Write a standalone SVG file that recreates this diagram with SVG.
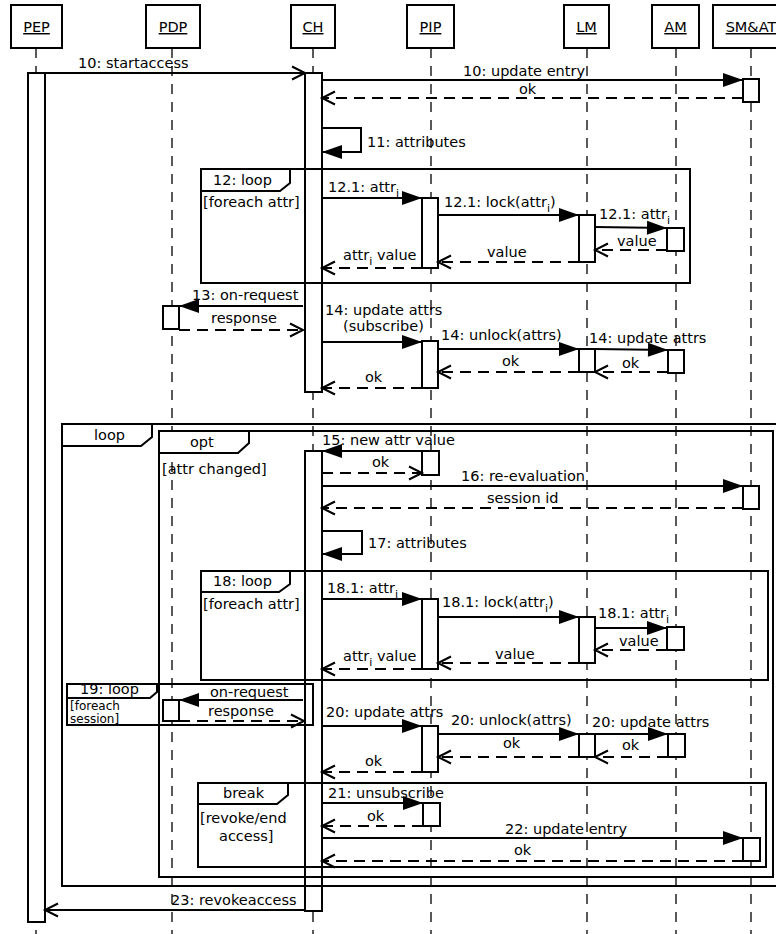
<svg xmlns="http://www.w3.org/2000/svg" width="776" height="934" viewBox="0 0 776 934">
<defs>
<style>
text{font-family:"DejaVu Sans","Liberation Sans",sans-serif;font-size:14.5px;fill:#000}
.hdr{fill:#fff;stroke:#000;stroke-width:2}
.ll{stroke:#000;stroke-width:1.3;stroke-dasharray:10 8;fill:none}
.act{fill:#fff;stroke:#000;stroke-width:2}
.frm{fill:none;stroke:#000;stroke-width:2}
.tab{fill:#fff;stroke:#000;stroke-width:2}
.m{stroke:#000;stroke-width:2;fill:none;marker-end:url(#fa)}
.o{stroke:#000;stroke-width:2;fill:none;marker-end:url(#oa)}
.r{stroke:#000;stroke-width:2;fill:none;stroke-dasharray:11 7;marker-end:url(#oa)}
.sub{font-size:11px}
.sm{font-size:12px}
.u{text-decoration:underline}
</style>
<marker id="fa" markerUnits="userSpaceOnUse" markerWidth="22" markerHeight="16" refX="20" refY="7" orient="auto" overflow="visible"><path d="M0,0 L20,7 L0,14 z" fill="#000"/></marker>
<marker id="oa" markerUnits="userSpaceOnUse" markerWidth="16" markerHeight="16" refX="13" refY="7" orient="auto" overflow="visible"><path d="M0,0.5 L13,7 L0,13.5" fill="none" stroke="#000" stroke-width="2"/></marker>
</defs>
<rect width="776" height="934" fill="#fff"/>

<g id="PEP"><line class="ll" x1="36" y1="48" x2="36" y2="934"/><rect class="hdr" x="11" y="5" width="51" height="43"/><text class="u" x="36.5" y="32" text-anchor="middle">PEP</text></g>
<g id="PDP"><line class="ll" x1="172" y1="48" x2="172" y2="934"/><rect class="hdr" x="146" y="5" width="54" height="43"/><text class="u" x="173" y="32" text-anchor="middle">PDP</text></g>
<g id="CH"><line class="ll" x1="313" y1="48" x2="313" y2="934"/><rect class="hdr" x="291" y="5" width="44" height="43"/><text class="u" x="313" y="32" text-anchor="middle">CH</text></g>
<g id="PIP"><line class="ll" x1="431" y1="48" x2="431" y2="934"/><rect class="hdr" x="407" y="5" width="47" height="43"/><text class="u" x="430.5" y="32" text-anchor="middle">PIP</text></g>
<g id="LM"><line class="ll" x1="587" y1="48" x2="587" y2="934"/><rect class="hdr" x="564" y="5" width="45" height="43"/><text class="u" x="586.5" y="32" text-anchor="middle">LM</text></g>
<g id="AM"><line class="ll" x1="676" y1="48" x2="676" y2="934"/><rect class="hdr" x="652" y="5" width="47" height="43"/><text class="u" x="675.5" y="32" text-anchor="middle">AM</text></g>
<g id="SMAT"><line class="ll" x1="751" y1="48" x2="751" y2="934"/><rect class="hdr" x="713" y="5" width="76" height="43"/><text class="u" x="751" y="32" text-anchor="middle">SM&amp;AT</text></g>

<g id="activations">
<rect class="act" x="28" y="73" width="17" height="849"/>
<rect class="act" x="305" y="73" width="17" height="319"/>
<rect class="act" x="305" y="451" width="17" height="460"/>
<rect class="act" x="743" y="79" width="16" height="23"/>
<rect class="act" x="422" y="198" width="16" height="70"/>
<rect class="act" x="579" y="215" width="16" height="47"/>
<rect class="act" x="667" y="228" width="17" height="23"/>
<rect class="act" x="163" y="306" width="16" height="23"/>
<rect class="act" x="422" y="341" width="16" height="47"/>
<rect class="act" x="579" y="349" width="16" height="23"/>
<rect class="act" x="668" y="350" width="16" height="23"/>
<rect class="act" x="422" y="451" width="17" height="24"/>
<rect class="act" x="743" y="486" width="16" height="23"/>
<rect class="act" x="422" y="599" width="16" height="70"/>
<rect class="act" x="579" y="617" width="16" height="46"/>
<rect class="act" x="667" y="627" width="17" height="23"/>
<rect class="act" x="163" y="700" width="16" height="21"/>
<rect class="act" x="422" y="726" width="16" height="46"/>
<rect class="act" x="579" y="734" width="16" height="23"/>
<rect class="act" x="668" y="734" width="17" height="23"/>
<rect class="act" x="423" y="803" width="17" height="23"/>
<rect class="act" x="743" y="838" width="17" height="23"/>
</g>

<g id="frame12">
<rect class="frm" x="201" y="169" width="489" height="114"/>
<path class="tab" d="M201,169 H290 V183 L280,191 H201 Z"/>
<text x="213" y="185">12: loop</text>
<text x="203" y="207">[foreach attr]</text>
</g>
<g id="frameLoop">
<rect class="frm" x="62" y="424" width="715" height="462"/>
<path class="tab" d="M62,424 H152 V437 L141,446 H62 Z"/>
<text x="94" y="440">loop</text>
</g>
<g id="frameOpt">
<rect class="frm" x="159" y="431" width="614" height="446"/>
<path class="tab" d="M159,431 H249 V443 L238,453 H159 Z"/>
<text x="190" y="447">opt</text>
<text x="162" y="474">[attr changed]</text>
</g>
<g id="frame18">
<rect class="frm" x="201" y="571" width="567" height="109"/>
<path class="tab" d="M201,571 H290 V584 L279,592 H201 Z"/>
<text x="213" y="586">18: loop</text>
<text x="203" y="609">[foreach attr]</text>
</g>
<g id="frame19">
<rect class="frm" x="67" y="684" width="246" height="41"/>
<path class="tab" d="M67,684 H157 V692 L150,698 H67 Z"/>
<text x="80" y="694">19: loop</text>
<text class="sm" x="70" y="710">[foreach</text>
<text class="sm" x="70" y="723">session]</text>
</g>
<g id="frameBreak">
<rect class="frm" x="198" y="783" width="568" height="84"/>
<path class="tab" d="M198,783 H288 V795 L277,804 H198 Z"/>
<text x="223" y="798">break</text>
<text x="200" y="823">[revoke/end</text>
<text x="219" y="841">access]</text>
</g>

<g id="connectors">
<line class="o" x1="45" y1="73" x2="305" y2="73"/>
<line class="m" x1="322" y1="80" x2="743" y2="80"/>
<line class="r" x1="743" y1="98" x2="322" y2="98"/>
<polyline class="m" points="322,128 361,128 361,152 322,152"/>
<line class="m" x1="322" y1="198" x2="422" y2="198"/>
<line class="m" x1="438" y1="215" x2="579" y2="215"/>
<line class="m" x1="595" y1="227" x2="667" y2="228"/>
<line class="r" x1="667" y1="250" x2="595" y2="250"/>
<line class="r" x1="579" y1="262" x2="438" y2="262"/>
<line class="r" x1="422" y1="268" x2="322" y2="268"/>
<line class="m" x1="303" y1="306" x2="179" y2="306"/>
<line class="r" x1="179" y1="330" x2="303" y2="330"/>
<line class="m" x1="322" y1="342" x2="422" y2="342"/>
<line class="m" x1="438" y1="349" x2="579" y2="349"/>
<line class="m" x1="595" y1="349" x2="668" y2="350"/>
<line class="r" x1="668" y1="372" x2="595" y2="372"/>
<line class="r" x1="579" y1="372" x2="438" y2="372"/>
<line class="r" x1="422" y1="388" x2="322" y2="388"/>
<line class="m" x1="422" y1="451" x2="322" y2="451"/>
<line class="r" x1="322" y1="473" x2="422" y2="473"/>
<line class="m" x1="322" y1="486" x2="743" y2="486"/>
<line class="r" x1="743" y1="508" x2="322" y2="508"/>
<polyline class="m" points="322,531 362,531 362,554 322,554"/>
<line class="m" x1="322" y1="599" x2="422" y2="599"/>
<line class="m" x1="438" y1="617" x2="579" y2="617"/>
<line class="m" x1="595" y1="628" x2="667" y2="628"/>
<line class="r" x1="667" y1="650" x2="595" y2="650"/>
<line class="r" x1="579" y1="663" x2="438" y2="663"/>
<line class="r" x1="422" y1="669" x2="322" y2="669"/>
<line class="m" x1="303" y1="700" x2="179" y2="700"/>
<line class="r" x1="179" y1="721" x2="304" y2="721"/>
<line class="m" x1="322" y1="726" x2="422" y2="726"/>
<line class="m" x1="438" y1="734" x2="579" y2="734"/>
<line class="m" x1="595" y1="734" x2="668" y2="734"/>
<line class="r" x1="668" y1="757" x2="595" y2="757"/>
<line class="r" x1="579" y1="757" x2="438" y2="757"/>
<line class="r" x1="422" y1="772" x2="322" y2="772"/>
<line class="m" x1="322" y1="803" x2="423" y2="803"/>
<line class="r" x1="423" y1="826" x2="322" y2="826"/>
<line class="m" x1="322" y1="838" x2="743" y2="838"/>
<line class="r" x1="743" y1="861" x2="322" y2="861"/>
<line class="o" x1="305" y1="910" x2="45" y2="910"/>
</g>

<g id="labels">
<text x="78" y="68">10: startaccess</text>
<text x="463" y="76">10: update entry</text>
<text x="519" y="94">ok</text>
<text x="367" y="147">11: attributes</text>
<text x="328" y="192">12.1: attr<tspan class="sub" dy="5">i</tspan></text>
<text x="444" y="207">12.1: lock(attr<tspan class="sub" dy="5">i</tspan><tspan dy="-5">)</tspan></text>
<text x="599" y="219">12.1: attr<tspan class="sub" dy="5">i</tspan></text>
<text x="617" y="246">value</text>
<text x="487" y="257">value</text>
<text x="343" y="260">attr<tspan class="sub" dy="5">i</tspan><tspan dy="-5"> value</tspan></text>
<text x="192" y="300">13: on-request</text>
<text x="211" y="323">response</text>
<text x="325" y="315">14: update attrs</text>
<text x="343" y="331">(subscribe)</text>
<text x="441" y="340">14: unlock(attrs)</text>
<text x="589" y="343">14: update attrs</text>
<text x="502" y="366">ok</text>
<text x="622" y="368">ok</text>
<text x="365" y="382">ok</text>
<text x="322" y="445">15: new attr value</text>
<text x="372" y="467">ok</text>
<text x="461" y="481">16: re-evaluation</text>
<text x="487" y="503">session id</text>
<text x="368" y="548">17: attributes</text>
<text x="327" y="593">18.1: attr<tspan class="sub" dy="5">i</tspan></text>
<text x="442" y="607">18.1: lock(attr<tspan class="sub" dy="5">i</tspan><tspan dy="-5">)</tspan></text>
<text x="598" y="618">18.1: attr<tspan class="sub" dy="5">i</tspan></text>
<text x="619" y="646">value</text>
<text x="495" y="659">value</text>
<text x="343" y="661">attr<tspan class="sub" dy="5">i</tspan><tspan dy="-5"> value</tspan></text>
<text x="210" y="697">on-request</text>
<text x="208" y="716">response</text>
<text x="326" y="717">20: update attrs</text>
<text x="451" y="725">20: unlock(attrs)</text>
<text x="592" y="727">20: update attrs</text>
<text x="503" y="748">ok</text>
<text x="622" y="750">ok</text>
<text x="365" y="766">ok</text>
<text x="328" y="798">21: unsubscribe</text>
<text x="367" y="821">ok</text>
<text x="505" y="834">22: update entry</text>
<text x="514" y="855">ok</text>
<text x="171" y="905">23: revokeaccess</text>
</g>
</svg>
